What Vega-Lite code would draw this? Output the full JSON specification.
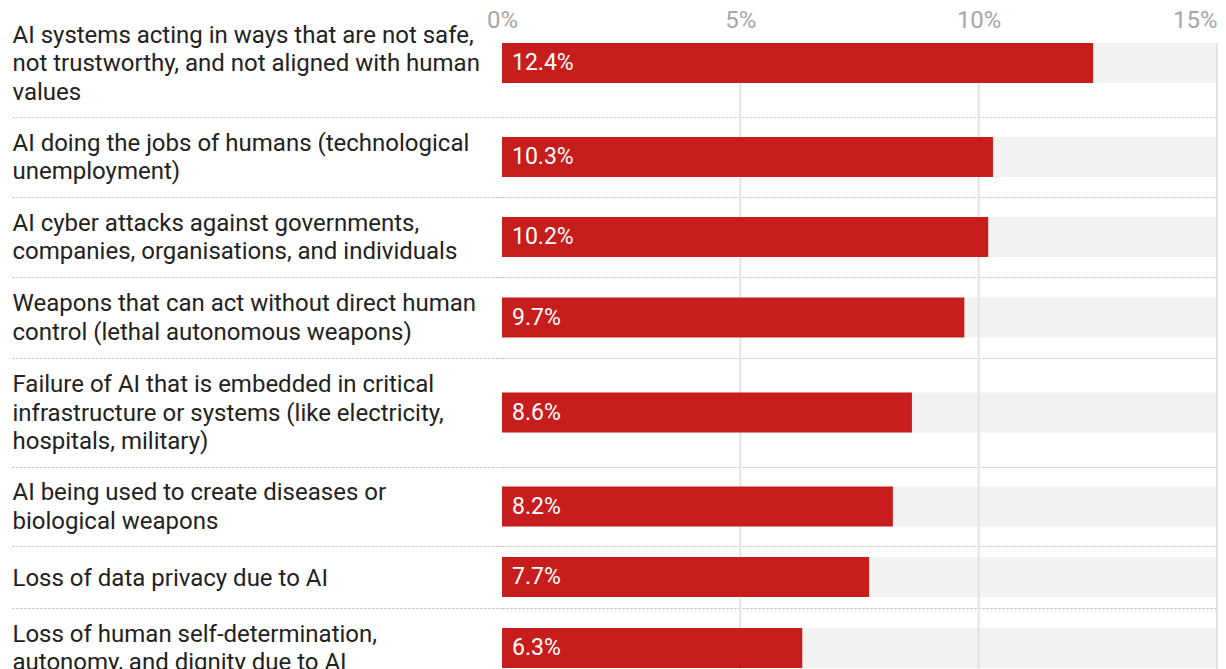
{
  "$schema": "https://vega.github.io/schema/vega-lite/v6.json",
  "padding": {"left": 11, "top": 8, "right": 8, "bottom": 0},
  "background": "white",
  "config": {
    "view": {"stroke": null},
    "font": "Roboto",
    "concat": {"spacing": 0}
  },
  "datasets": {
    "concerns": [
      {"rank": 1, "label": "AI systems acting in ways that are not safe,|not trustworthy, and not aligned with human|values", "share": 0.124},
      {"rank": 2, "label": "AI doing the jobs of humans (technological|unemployment)", "share": 0.103},
      {"rank": 3, "label": "AI cyber attacks against governments,|companies, organisations, and individuals", "share": 0.102},
      {"rank": 4, "label": "Weapons that can act without direct human|control (lethal autonomous weapons)", "share": 0.097},
      {"rank": 5, "label": "Failure of AI that is embedded in critical|infrastructure or systems (like electricity,|hospitals, military)", "share": 0.086},
      {"rank": 6, "label": "AI being used to create diseases or|biological weapons", "share": 0.082},
      {"rank": 7, "label": "Loss of data privacy due to AI", "share": 0.077},
      {"rank": 8, "label": "Loss of human self-determination,|autonomy, and dignity due to AI", "share": 0.063}
    ],
    "ticks": [{"tick": 0.05}, {"tick": 0.10}, {"tick": 0.15}]
  },
  "vconcat": [
    {
      "width": 715, "height": 74,
      "layer": [
        {"data": {"name": "concerns"}, "transform": [{"filter": "datum.rank == 1"}],
         "mark": {"type": "bar", "color": "#f2f2f2"},
         "encoding": {
           "y": {"field": "label", "type": "nominal", "scale": {"paddingInner": 0, "paddingOuter": 0.425, "align": 0},
             "axis": {"title": null, "domain": false, "grid": false, "ticks": true, "tickOpacity": 0, "tickBand": "extent", "tickSize": 490, "labelAlign": "left", "labelPadding": 0, "labelOffset": -28, "labelFont": "Roboto", "labelFontSize": 24, "labelColor": "#222222", "labelLimit": 0, "labelLineHeight": 28.5, "labelBaseline": "middle", "labelExpr": "split(datum.label, '|')"}},
           "x": {"datum": 0.15, "type": "quantitative", "scale": {"domain": [0, 0.15], "nice": false},
             "axis": {"orient": "top", "title": null, "grid": false, "ticks": false, "domain": false, "values": [0, 0.05, 0.1, 0.15], "format": "%", "labelFlush": false, "labelPadding": 16, "labelBaseline": "alphabetic", "labelFont": "Roboto", "labelFontSize": 24, "labelColor": "#a6a6a6", "labelAlign": {"condition": {"test": "datum.value >= 0.15", "value": "right"}, "value": "center"}}}
         }},
        {"data": {"name": "ticks"}, "mark": {"type": "rule", "color": "#e2e2e2", "strokeWidth": 2},
         "encoding": {"x": {"field": "tick", "type": "quantitative"}}},
        {"data": {"name": "concerns"}, "transform": [{"filter": "datum.rank == 1"}],
         "mark": {"type": "bar", "color": "#c71d1d"},
         "encoding": {"y": {"field": "label", "type": "nominal"}, "x": {"field": "share", "type": "quantitative"}}},
        {"data": {"name": "concerns"}, "transform": [{"filter": "datum.rank == 1"}],
         "mark": {"type": "text", "align": "left", "baseline": "middle", "dx": 10, "color": "white", "fontSize": 23, "font": "Roboto"},
         "encoding": {"y": {"field": "label", "type": "nominal"}, "x": {"datum": 0, "type": "quantitative"}, "text": {"field": "share", "type": "quantitative", "format": ".1%"}}},
        {"mark": {"type": "rule", "color": "#333333", "strokeWidth": 2},
         "encoding": {"x": {"datum": 0, "type": "quantitative"}}}
      ]
    },
    {
      "width": 715, "height": 80,
      "layer": [
        {"data": {"name": "concerns"}, "transform": [{"filter": "datum.rank == 2"}],
         "mark": {"type": "bar", "color": "#f2f2f2", "height": 40},
         "encoding": {
           "y": {"field": "label", "type": "nominal", "scale": {"paddingInner": 0, "paddingOuter": 0},
             "axis": {"title": null, "domain": false, "grid": true, "gridColor": "#c4c4c4", "gridDash": [2, 2], "gridWidth": 1, "ticks": true, "tickColor": "#c4c4c4", "tickDash": [2, 2], "tickWidth": 1, "tickBand": "extent", "tickSize": 490, "labelAlign": "left", "labelPadding": 0, "labelOffset": -14, "labelFont": "Roboto", "labelFontSize": 24, "labelColor": "#222222", "labelLimit": 0, "labelLineHeight": 28.5, "labelBaseline": "middle", "labelExpr": "split(datum.label, '|')"}},
           "x": {"datum": 0.15, "type": "quantitative", "scale": {"domain": [0, 0.15], "nice": false}, "axis": null}
         }},
        {"data": {"name": "ticks"}, "mark": {"type": "rule", "color": "#e2e2e2", "strokeWidth": 2},
         "encoding": {"x": {"field": "tick", "type": "quantitative"}}},
        {"data": {"name": "concerns"}, "transform": [{"filter": "datum.rank == 2"}],
         "mark": {"type": "bar", "color": "#c71d1d", "height": 40},
         "encoding": {"y": {"field": "label", "type": "nominal"}, "x": {"field": "share", "type": "quantitative"}}},
        {"data": {"name": "concerns"}, "transform": [{"filter": "datum.rank == 2"}],
         "mark": {"type": "text", "align": "left", "baseline": "middle", "dx": 10, "color": "white", "fontSize": 23, "font": "Roboto"},
         "encoding": {"y": {"field": "label", "type": "nominal"}, "x": {"datum": 0, "type": "quantitative"}, "text": {"field": "share", "type": "quantitative", "format": ".1%"}}},
        {"mark": {"type": "rule", "color": "#333333", "strokeWidth": 2},
         "encoding": {"x": {"datum": 0, "type": "quantitative"}}}
      ]
    },
    {
      "width": 715, "height": 80,
      "layer": [
        {"data": {"name": "concerns"}, "transform": [{"filter": "datum.rank == 3"}],
         "mark": {"type": "bar", "color": "#f2f2f2", "height": 40},
         "encoding": {
           "y": {"field": "label", "type": "nominal", "scale": {"paddingInner": 0, "paddingOuter": 0},
             "axis": {"title": null, "domain": false, "grid": true, "gridColor": "#c4c4c4", "gridDash": [2, 2], "gridWidth": 1, "ticks": true, "tickColor": "#c4c4c4", "tickDash": [2, 2], "tickWidth": 1, "tickBand": "extent", "tickSize": 490, "labelAlign": "left", "labelPadding": 0, "labelOffset": -14, "labelFont": "Roboto", "labelFontSize": 24, "labelColor": "#222222", "labelLimit": 0, "labelLineHeight": 28.5, "labelBaseline": "middle", "labelExpr": "split(datum.label, '|')"}},
           "x": {"datum": 0.15, "type": "quantitative", "scale": {"domain": [0, 0.15], "nice": false}, "axis": null}
         }},
        {"data": {"name": "ticks"}, "mark": {"type": "rule", "color": "#e2e2e2", "strokeWidth": 2},
         "encoding": {"x": {"field": "tick", "type": "quantitative"}}},
        {"data": {"name": "concerns"}, "transform": [{"filter": "datum.rank == 3"}],
         "mark": {"type": "bar", "color": "#c71d1d", "height": 40},
         "encoding": {"y": {"field": "label", "type": "nominal"}, "x": {"field": "share", "type": "quantitative"}}},
        {"data": {"name": "concerns"}, "transform": [{"filter": "datum.rank == 3"}],
         "mark": {"type": "text", "align": "left", "baseline": "middle", "dx": 10, "color": "white", "fontSize": 23, "font": "Roboto"},
         "encoding": {"y": {"field": "label", "type": "nominal"}, "x": {"datum": 0, "type": "quantitative"}, "text": {"field": "share", "type": "quantitative", "format": ".1%"}}},
        {"mark": {"type": "rule", "color": "#333333", "strokeWidth": 2},
         "encoding": {"x": {"datum": 0, "type": "quantitative"}}}
      ]
    },
    {
      "width": 715, "height": 81,
      "layer": [
        {"data": {"name": "concerns"}, "transform": [{"filter": "datum.rank == 4"}],
         "mark": {"type": "bar", "color": "#f2f2f2", "height": 40},
         "encoding": {
           "y": {"field": "label", "type": "nominal", "scale": {"paddingInner": 0, "paddingOuter": 0},
             "axis": {"title": null, "domain": false, "grid": true, "gridColor": "#c4c4c4", "gridDash": [2, 2], "gridWidth": 1, "ticks": true, "tickColor": "#c4c4c4", "tickDash": [2, 2], "tickWidth": 1, "tickBand": "extent", "tickSize": 490, "labelAlign": "left", "labelPadding": 0, "labelOffset": -14, "labelFont": "Roboto", "labelFontSize": 24, "labelColor": "#222222", "labelLimit": 0, "labelLineHeight": 28.5, "labelBaseline": "middle", "labelExpr": "split(datum.label, '|')"}},
           "x": {"datum": 0.15, "type": "quantitative", "scale": {"domain": [0, 0.15], "nice": false}, "axis": null}
         }},
        {"data": {"name": "ticks"}, "mark": {"type": "rule", "color": "#e2e2e2", "strokeWidth": 2},
         "encoding": {"x": {"field": "tick", "type": "quantitative"}}},
        {"data": {"name": "concerns"}, "transform": [{"filter": "datum.rank == 4"}],
         "mark": {"type": "bar", "color": "#c71d1d", "height": 40},
         "encoding": {"y": {"field": "label", "type": "nominal"}, "x": {"field": "share", "type": "quantitative"}}},
        {"data": {"name": "concerns"}, "transform": [{"filter": "datum.rank == 4"}],
         "mark": {"type": "text", "align": "left", "baseline": "middle", "dx": 10, "color": "white", "fontSize": 23, "font": "Roboto"},
         "encoding": {"y": {"field": "label", "type": "nominal"}, "x": {"datum": 0, "type": "quantitative"}, "text": {"field": "share", "type": "quantitative", "format": ".1%"}}},
        {"mark": {"type": "rule", "color": "#333333", "strokeWidth": 2},
         "encoding": {"x": {"datum": 0, "type": "quantitative"}}}
      ]
    },
    {
      "width": 715, "height": 109,
      "layer": [
        {"data": {"name": "concerns"}, "transform": [{"filter": "datum.rank == 5"}],
         "mark": {"type": "bar", "color": "#f2f2f2", "height": 40},
         "encoding": {
           "y": {"field": "label", "type": "nominal", "scale": {"paddingInner": 0, "paddingOuter": 0},
             "axis": {"title": null, "domain": false, "grid": true, "gridColor": "#c4c4c4", "gridDash": [2, 2], "gridWidth": 1, "ticks": true, "tickColor": "#c4c4c4", "tickDash": [2, 2], "tickWidth": 1, "tickBand": "extent", "tickSize": 490, "labelAlign": "left", "labelPadding": 0, "labelOffset": -28, "labelFont": "Roboto", "labelFontSize": 24, "labelColor": "#222222", "labelLimit": 0, "labelLineHeight": 28.5, "labelBaseline": "middle", "labelExpr": "split(datum.label, '|')"}},
           "x": {"datum": 0.15, "type": "quantitative", "scale": {"domain": [0, 0.15], "nice": false}, "axis": null}
         }},
        {"data": {"name": "ticks"}, "mark": {"type": "rule", "color": "#e2e2e2", "strokeWidth": 2},
         "encoding": {"x": {"field": "tick", "type": "quantitative"}}},
        {"data": {"name": "concerns"}, "transform": [{"filter": "datum.rank == 5"}],
         "mark": {"type": "bar", "color": "#c71d1d", "height": 40},
         "encoding": {"y": {"field": "label", "type": "nominal"}, "x": {"field": "share", "type": "quantitative"}}},
        {"data": {"name": "concerns"}, "transform": [{"filter": "datum.rank == 5"}],
         "mark": {"type": "text", "align": "left", "baseline": "middle", "dx": 10, "color": "white", "fontSize": 23, "font": "Roboto"},
         "encoding": {"y": {"field": "label", "type": "nominal"}, "x": {"datum": 0, "type": "quantitative"}, "text": {"field": "share", "type": "quantitative", "format": ".1%"}}},
        {"mark": {"type": "rule", "color": "#333333", "strokeWidth": 2},
         "encoding": {"x": {"datum": 0, "type": "quantitative"}}}
      ]
    },
    {
      "width": 715, "height": 79,
      "layer": [
        {"data": {"name": "concerns"}, "transform": [{"filter": "datum.rank == 6"}],
         "mark": {"type": "bar", "color": "#f2f2f2", "height": 40},
         "encoding": {
           "y": {"field": "label", "type": "nominal", "scale": {"paddingInner": 0, "paddingOuter": 0},
             "axis": {"title": null, "domain": false, "grid": true, "gridColor": "#c4c4c4", "gridDash": [2, 2], "gridWidth": 1, "ticks": true, "tickColor": "#c4c4c4", "tickDash": [2, 2], "tickWidth": 1, "tickBand": "extent", "tickSize": 490, "labelAlign": "left", "labelPadding": 0, "labelOffset": -14, "labelFont": "Roboto", "labelFontSize": 24, "labelColor": "#222222", "labelLimit": 0, "labelLineHeight": 28.5, "labelBaseline": "middle", "labelExpr": "split(datum.label, '|')"}},
           "x": {"datum": 0.15, "type": "quantitative", "scale": {"domain": [0, 0.15], "nice": false}, "axis": null}
         }},
        {"data": {"name": "ticks"}, "mark": {"type": "rule", "color": "#e2e2e2", "strokeWidth": 2},
         "encoding": {"x": {"field": "tick", "type": "quantitative"}}},
        {"data": {"name": "concerns"}, "transform": [{"filter": "datum.rank == 6"}],
         "mark": {"type": "bar", "color": "#c71d1d", "height": 40},
         "encoding": {"y": {"field": "label", "type": "nominal"}, "x": {"field": "share", "type": "quantitative"}}},
        {"data": {"name": "concerns"}, "transform": [{"filter": "datum.rank == 6"}],
         "mark": {"type": "text", "align": "left", "baseline": "middle", "dx": 10, "color": "white", "fontSize": 23, "font": "Roboto"},
         "encoding": {"y": {"field": "label", "type": "nominal"}, "x": {"datum": 0, "type": "quantitative"}, "text": {"field": "share", "type": "quantitative", "format": ".1%"}}},
        {"mark": {"type": "rule", "color": "#333333", "strokeWidth": 2},
         "encoding": {"x": {"datum": 0, "type": "quantitative"}}}
      ]
    },
    {
      "width": 715, "height": 62,
      "layer": [
        {"data": {"name": "concerns"}, "transform": [{"filter": "datum.rank == 7"}],
         "mark": {"type": "bar", "color": "#f2f2f2", "height": 40},
         "encoding": {
           "y": {"field": "label", "type": "nominal", "scale": {"paddingInner": 0, "paddingOuter": 0},
             "axis": {"title": null, "domain": false, "grid": true, "gridColor": "#c4c4c4", "gridDash": [2, 2], "gridWidth": 1, "ticks": true, "tickColor": "#c4c4c4", "tickDash": [2, 2], "tickWidth": 1, "tickBand": "extent", "tickSize": 490, "labelAlign": "left", "labelPadding": 0, "labelOffset": 1, "labelFont": "Roboto", "labelFontSize": 24, "labelColor": "#222222", "labelLimit": 0, "labelLineHeight": 28.5, "labelBaseline": "middle", "labelExpr": "split(datum.label, '|')"}},
           "x": {"datum": 0.15, "type": "quantitative", "scale": {"domain": [0, 0.15], "nice": false}, "axis": null}
         }},
        {"data": {"name": "ticks"}, "mark": {"type": "rule", "color": "#e2e2e2", "strokeWidth": 2},
         "encoding": {"x": {"field": "tick", "type": "quantitative"}}},
        {"data": {"name": "concerns"}, "transform": [{"filter": "datum.rank == 7"}],
         "mark": {"type": "bar", "color": "#c71d1d", "height": 40},
         "encoding": {"y": {"field": "label", "type": "nominal"}, "x": {"field": "share", "type": "quantitative"}}},
        {"data": {"name": "concerns"}, "transform": [{"filter": "datum.rank == 7"}],
         "mark": {"type": "text", "align": "left", "baseline": "middle", "dx": 10, "color": "white", "fontSize": 23, "font": "Roboto"},
         "encoding": {"y": {"field": "label", "type": "nominal"}, "x": {"datum": 0, "type": "quantitative"}, "text": {"field": "share", "type": "quantitative", "format": ".1%"}}},
        {"mark": {"type": "rule", "color": "#333333", "strokeWidth": 2},
         "encoding": {"x": {"datum": 0, "type": "quantitative"}}}
      ]
    },
    {
      "width": 715, "height": 80,
      "layer": [
        {"data": {"name": "concerns"}, "transform": [{"filter": "datum.rank == 8"}],
         "mark": {"type": "bar", "color": "#f2f2f2", "height": 40},
         "encoding": {
           "y": {"field": "label", "type": "nominal", "scale": {"paddingInner": 0, "paddingOuter": 0},
             "axis": {"title": null, "domain": false, "grid": true, "gridColor": "#c4c4c4", "gridDash": [2, 2], "gridWidth": 1, "ticks": true, "tickColor": "#c4c4c4", "tickDash": [2, 2], "tickWidth": 1, "tickBand": "extent", "tickSize": 490, "labelAlign": "left", "labelPadding": 0, "labelOffset": -14, "labelFont": "Roboto", "labelFontSize": 24, "labelColor": "#222222", "labelLimit": 0, "labelLineHeight": 28.5, "labelBaseline": "middle", "labelExpr": "split(datum.label, '|')"}},
           "x": {"datum": 0.15, "type": "quantitative", "scale": {"domain": [0, 0.15], "nice": false}, "axis": null}
         }},
        {"data": {"name": "ticks"}, "mark": {"type": "rule", "color": "#e2e2e2", "strokeWidth": 2},
         "encoding": {"x": {"field": "tick", "type": "quantitative"}}},
        {"data": {"name": "concerns"}, "transform": [{"filter": "datum.rank == 8"}],
         "mark": {"type": "bar", "color": "#c71d1d", "height": 40},
         "encoding": {"y": {"field": "label", "type": "nominal"}, "x": {"field": "share", "type": "quantitative"}}},
        {"data": {"name": "concerns"}, "transform": [{"filter": "datum.rank == 8"}],
         "mark": {"type": "text", "align": "left", "baseline": "middle", "dx": 10, "color": "white", "fontSize": 23, "font": "Roboto"},
         "encoding": {"y": {"field": "label", "type": "nominal"}, "x": {"datum": 0, "type": "quantitative"}, "text": {"field": "share", "type": "quantitative", "format": ".1%"}}},
        {"mark": {"type": "rule", "color": "#333333", "strokeWidth": 2},
         "encoding": {"x": {"datum": 0, "type": "quantitative"}}}
      ]
    }
  ],
  "resolve": {"scale": {"x": "independent", "y": "independent"}},
  "bounds": "flush",
  "spacing": 0
}
